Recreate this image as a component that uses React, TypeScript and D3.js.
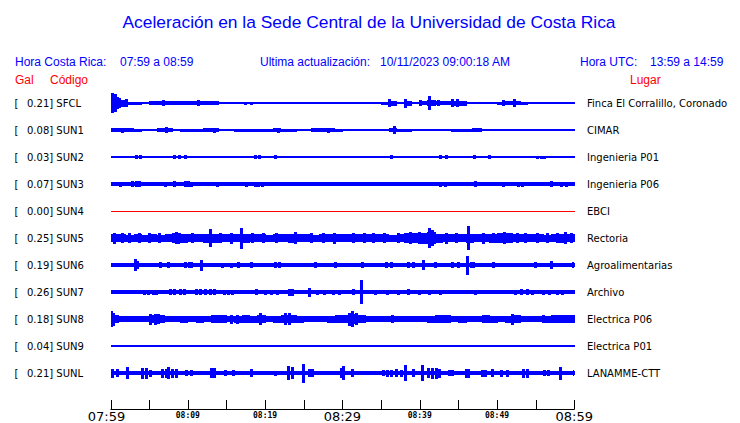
import React from "react";
import * as d3 from "d3";

const title = "Aceleración en la Sede Central de la Universidad de Costa Rica";
const codes = ["SFCL", "SUN1", "SUN2", "SUN3", "SUN4", "SUN5", "SUN6", "SUN7", "SUN8", "SUN9", "SUNL"];
const gals = ["0.21", "0.08", "0.03", "0.07", "0.00", "0.25", "0.19", "0.26", "0.18", "0.04", "0.21"];
const places = [
  "Finca El Corralillo, Coronado", "CIMAR", "Ingenieria P01", "Ingenieria P06", "EBCI",
  "Rectoria", "Agroalimentarias", "Archivo", "Electrica P06", "Electrica P01", "LANAMME-CTT",
];
const traceColors = ["#0000ff", "#0000ff", "#0000ff", "#0000ff", "#ff0000", "#0000ff", "#0000ff", "#0000ff", "#0000ff", "#0000ff", "#0000ff"];
const tickMinutes = [0, 5, 10, 15, 20, 25, 30, 35, 40, 45, 50, 55, 60];
const tickLabels = ["07:59", "", "08:09", "", "08:19", "", "08:29", "", "08:39", "", "08:49", "", "08:59"];
const bigLabels = ["07:59", "08:29", "08:59"];

// per-minute band half-amplitude (relative units, tenths)
const bandSFCL = [60,35,15,15,12,18,20,18,18,18,18,20,18,18,14,14,12,8,10,7,7,7,7,7,7,7,8,12,12,12,7,8,8,8,12,15,25,12,25,12,20,30,18,18,25,25,10,10,8,12,15,18,22,15,10,10,7,8,8,8];
const bandSUN1 = [17,17,17,15,9,10,20,20,10,15,15,15,17,17,10,13,15,15,15,15,15,17,15,15,13,10,20,20,17,15,7,10,12,12,10,12,18,15,15,12,13,13,13,13,15,15,15,17,13,13,13,13,13,13,13,13,10,10,10,10];
const bandSUN2 = [7,7,7,7,7,7,7,7,7,7,7,7,7,7,7,7,7,7,7,7,7,7,7,7,7,7,7,7,7,7,7,7,7,7,7,7,7,7,7,7,7,7,7,7,7,7,7,7,7,7,7,7,7,7,7,7,7,7,7,7];
const bandSUN3 = [17,17,19,19,17,17,17,17,18,18,17,17,17,17,17,17,17,17,18,18,17,17,17,17,17,17,17,17,17,17,17,17,17,17,17,17,17,17,17,17,17,17,18,18,17,17,17,17,17,17,17,17,18,18,18,18,17,18,18,17];
const bandSUN4 = [5,5,5,5,5,5,5,5,5,5,5,5,5,5,5,5,5,5,5,5,5,5,5,5,5,5,5,5,5,5,5,5,5,5,5,5,5,5,5,5,5,5,5,5,5,5,5,5,5,5,5,5,5,5,5,5,5,5,5,5];
const bandSUN5 = [40,38,35,38,35,38,35,38,50,45,40,38,45,45,40,42,40,45,40,38,35,38,40,45,40,38,35,38,40,42,40,38,38,40,38,38,35,40,48,50,55,60,45,40,38,40,45,40,42,45,48,50,42,40,38,38,35,40,45,40];
const bandSUN6 = [18,18,18,19,18,18,18,18,18,18,18,18,18,18,18,18,18,18,18,18,18,18,18,18,18,18,18,18,18,18,18,18,18,18,18,18,18,18,18,18,18,18,18,18,18,18,18,18,18,18,18,18,18,18,18,18,18,18,18,18];
const bandSUN7 = [17,17,17,17,18,19,18,17,18,18,17,19,19,19,18,18,17,17,18,17,18,18,17,18,17,18,18,17,18,18,17,18,18,17,18,17,18,17,18,17,18,17,18,17,17,17,17,17,17,17,17,17,18,18,18,17,18,18,18,17];
const bandSUN8 = [42,32,32,30,32,42,42,32,32,35,32,35,32,37,37,32,35,37,35,40,32,35,42,42,35,32,32,32,35,37,42,52,37,32,30,32,32,32,32,32,32,35,37,37,32,35,32,32,37,35,32,35,37,32,32,32,35,37,37,37];
const bandSUN9 = [10,10,10,8,10,10,6,10,10,8,10,10,10,6,10,10,8,10,10,10,10,8,10,10,6,10,10,8,10,8,6,10,8,10,10,10,8,10,10,8,10,12,12,12,12,12,12,12,12,12,12,12,12,12,12,12,12,12,12,12];
const bandSUNL = [18,17,18,17,19,19,19,19,19,17,17,17,17,19,17,17,17,17,17,17,17,17,17,19,19,17,17,17,17,17,18,17,17,17,17,21,21,22,22,22,22,22,22,20,17,17,18,17,17,17,17,17,17,18,17,17,17,17,18,17];

// bursts: [minute, half-amplitude]
const burstsSFCL: [number, number][] = [[0.2,100],[0.6,90],[1.2,50],[2.1,40],[6.9,28],[11.4,30],[17.4,15],[18.3,15],[20.5,12],[21.6,12],[22.6,12],[26.7,14],[36.1,42],[38.2,45],[40.1,32],[41.3,70],[42.4,30],[44.2,38],[44.9,40],[47.2,14],[50.9,30],[52.2,40],[55.5,12],[57.2,12],[58.4,12],[59.3,12]];
const burstsSUN1: [number, number][] = [[1.5,25],[7.3,33],[13.5,25],[21.7,25],[28.2,25],[36.7,40],[47,22]];
const burstsSUN2: [number, number][] = [[1,14],[3.3,20],[3.9,20],[5.6,13],[7.3,13],[8.3,20],[8.9,18],[9.7,20],[10.5,13],[13.8,14],[15.1,13],[15.7,13],[17.4,13],[18,13],[18.8,20],[19.3,20],[21.3,20],[25,13],[25.6,13],[34.5,13],[35,13],[36.3,16],[38.8,14],[42.7,18],[43.5,16],[44.9,12],[46.2,12],[47.1,20],[49,16],[49.4,14],[50.7,13],[51.6,13],[53.2,13],[54.3,13],[55.2,15],[55.7,15],[56.2,15],[57.1,14],[57.8,14],[58.4,14],[59.9,14]];
const burstsSUN3: [number, number][] = [[1.3,25],[2.9,30],[3.3,30],[3.8,28],[7.1,25],[8.3,30],[9.7,28],[10.1,28],[10.5,25],[13.8,25],[17.6,25],[18.7,25],[19.1,25],[19.6,25],[21.5,24],[22.8,24],[25.2,23],[26.7,23],[30.9,23],[40.3,24],[42.7,25],[43.4,25],[46,23],[47.2,30],[48.5,24],[50.9,25],[52.8,25],[53.3,25],[54.3,24],[55,24],[55.6,24],[57.1,30],[58.4,25],[59,25]];
const burstsSUN4: [number, number][] = [];
const burstsSUN5: [number, number][] = [[0.5,55],[1.6,48],[2.5,50],[3.7,48],[5,52],[6.4,48],[8.5,58],[8.8,55],[10.6,48],[12.9,90],[14.2,50],[15.7,55],[17,105],[18.4,48],[19.8,50],[21.5,48],[23.9,58],[26,50],[27.6,48],[29,55],[31.5,52],[32.8,48],[34,50],[35.5,48],[37.2,50],[38.8,60],[40,62],[41.3,100],[41.7,80],[43.5,55],[44.8,48],[46.3,120],[48.2,55],[49.5,50],[51,62],[52.6,48],[53.7,52],[55.2,48],[56.5,50],[57.8,50],[58.8,58],[59.6,50]];
const burstsSUN6: [number, number][] = [[3.2,60],[3.5,40],[6.5,30],[7.5,30],[9.7,30],[10.2,28],[10.5,30],[11.8,55],[14.5,25],[15.6,25],[16.6,27],[18.3,26],[21.4,30],[21.8,30],[26.5,26],[29.1,26],[32.6,30],[35.7,26],[36.4,26],[38.6,30],[39.2,30],[40.5,50],[42,28],[44.2,30],[45,26],[46.2,95],[46.7,30],[47,28],[49.6,30],[55,28],[57,40],[59.9,28]];
const burstsSUN7: [number, number][] = [[4.4,25],[4.9,25],[5.5,25],[6,25],[7.8,27],[8.3,27],[9.1,27],[9.6,27],[11.1,28],[11.7,30],[12.3,28],[13,28],[13.4,27],[14.7,25],[15.3,25],[15.8,25],[17.2,24],[18.9,30],[20,25],[20.8,25],[21.6,25],[23.1,35],[23.6,35],[25.7,45],[26.8,25],[27.7,25],[28.8,25],[29.6,25],[31.4,30],[32.5,120],[34.3,25],[35.8,25],[37.3,25],[38.6,26],[40,25],[41.3,25],[42.7,25],[47.2,25],[52.4,25],[53.2,27],[54,27],[54.6,25],[56,25],[56.8,25],[57.8,25],[58.5,25]];
const burstsSUN8: [number, number][] = [[0.1,80],[0.4,65],[5.2,55],[5.8,55],[6.2,50],[13.3,42],[14.1,42],[15.6,45],[16.4,45],[19.4,60],[22.6,58],[23.1,58],[29.4,42],[30.9,65],[31.3,80],[31.8,60],[36.5,38],[42.2,42],[43.3,42],[48.5,42],[52,55],[56,40],[57.5,42],[58.6,42],[59.6,42]];
const burstsSUN9: [number, number][] = [];
const burstsSUNL: [number, number][] = [[0.2,45],[0.9,40],[2.2,60],[4.1,55],[4.6,55],[5.2,35],[6.7,45],[7.2,45],[7.5,60],[8,45],[8.6,45],[9.8,30],[10.5,30],[13.1,50],[13.5,50],[14.9,30],[15.9,30],[18.3,40],[21.3,25],[23,70],[23.6,60],[25,95],[25.7,40],[26.1,40],[29.9,50],[30.2,70],[31.3,40],[35.3,30],[35.8,35],[36.4,35],[37,40],[37.6,35],[38.2,80],[39.2,40],[40.3,80],[41.2,50],[41.7,55],[42.2,55],[42.6,45],[43.9,30],[44.3,30],[46,45],[46.3,45],[48.1,35],[48.5,35],[49.4,40],[50.6,35],[51.4,35],[53.4,45],[53.9,45],[56.1,30],[56.6,30],[58.2,65],[60,30]];

const bands = [bandSFCL, bandSUN1, bandSUN2, bandSUN3, bandSUN4, bandSUN5, bandSUN6, bandSUN7, bandSUN8, bandSUN9, bandSUNL];
const bursts = [burstsSFCL, burstsSUN1, burstsSUN2, burstsSUN3, burstsSUN4, burstsSUN5, burstsSUN6, burstsSUN7, burstsSUN8, burstsSUN9, burstsSUNL];

const W = 740, H = 423;
const x = d3.scaleLinear().domain([0, 60]).range([110.5, 574.3]);
const y = d3.scalePoint<string>().domain(codes).range([103, 373]);
const amp = d3.scaleLinear().domain([0, 135]).range([0, 13.5]);

const sans = "'Liberation Sans', Arial, sans-serif";
const dv = "'DejaVu Sans', sans-serif";

export default function App() {
  return (
    <svg width={W} height={H} style={{ position: "absolute", left: 0, top: 0, background: "#fff" }}>
      <rect width={W} height={H} fill="#fff" />
      <text x={369} y={28} textAnchor="middle" fontFamily={sans} fontSize={17.4} fill="#0000ff">{title}</text>
      <g fontFamily={sans} fontSize={12} fill="#0000ff">
        <text x={15} y={66}>Hora Costa Rica:</text>
        <text x={120} y={66}>07:59 a 08:59</text>
        <text x={260} y={66}>Ultima actualización:</text>
        <text x={380} y={66}>10/11/2023 09:00:18 AM</text>
        <text x={580} y={66}>Hora UTC:</text>
        <text x={650} y={66}>13:59 a 14:59</text>
      </g>
      <g fontFamily={sans} fontSize={12} fill="#ff0000">
        <text x={15} y={84}>Gal</text>
        <text x={50} y={84}>Código</text>
        <text x={630} y={84}>Lugar</text>
      </g>
      {codes.map((c, i) => {
        const cy = y(c)!;
        return (
          <g key={c}>
            <text x={14.5} y={cy + 3.8} fontFamily={dv} fontSize={10} fill="#000">[</text>
            <text x={27} y={cy + 3.8} fontFamily={dv} fontSize={10} fill="#000">{gals[i] + "] " + c}</text>
            <text x={587} y={cy + 3.8} fontFamily={dv} fontSize={10} fill="#000">{places[i]}</text>
            <g fill={traceColors[i]} shapeRendering="crispEdges">
              {bands[i].map((v, m) => (
                <rect key={"b" + m} x={x(m)} width={x(m + 1) - x(m) + 0.5} y={cy - amp(v)} height={Math.max(1, 2 * amp(v))} />
              ))}
              {bursts[i].map(([m, v], k) => {
                const x0 = Math.max(x(0), x(m) - 1.5);
                const x1 = Math.min(x(60), x(m) + 1.5);
                return <rect key={"s" + k} x={x0} width={x1 - x0} y={cy - amp(v)} height={2 * amp(v)} />;
              })}
            </g>
          </g>
        );
      })}
      <g>
        <line x1={x(0)} x2={x(60)} y1={409.5} y2={409.5} stroke="#000" strokeWidth={1} />
        {tickMinutes.map((m, i) => (
          <g key={m}>
            <line x1={Math.round(x(m)) + 0.5} x2={Math.round(x(m)) + 0.5} y1={400} y2={409.5} stroke="#000" />
            {tickLabels[i] && (bigLabels.includes(tickLabels[i]) ? (
              <text x={x(m) + (i === 0 ? -4 : 0)} y={421} textAnchor="middle" fontFamily={dv} fontSize={13} fill="#000">{tickLabels[i]}</text>
            ) : (
              <text x={x(m)} y={418} textAnchor="middle" fontFamily="'DejaVu Sans Mono', monospace" fontWeight="bold" fontSize={8} fill="#000">{tickLabels[i]}</text>
            ))}
          </g>
        ))}
      </g>
    </svg>
  );
}
